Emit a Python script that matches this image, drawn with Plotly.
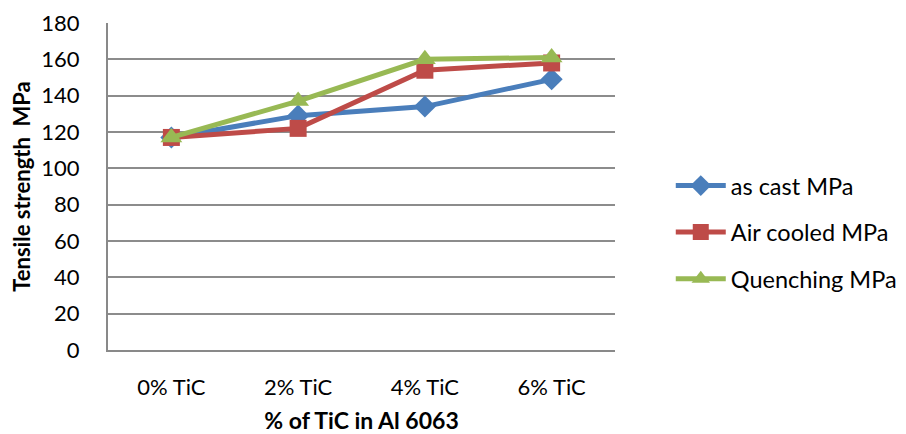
import plotly.graph_objects as go

categories = ["0% TiC", "2% TiC", "4% TiC", "6% TiC"]
as_cast = [117, 129, 134, 149]
air_cooled = [117, 122, 154, 158]
quenching = [117, 137, 160, 161]
y_ticks = [0, 20, 40, 60, 80, 100, 120, 140, 160, 180]

series = [
    ("as cast MPa", as_cast, "#4A7EBB", "diamond", 17),
    ("Air cooled MPa", air_cooled, "#BE4B48", "square", 17),
    ("Quenching MPa", quenching, "#98B954", "triangle-up", 19),
]

fig = go.Figure()
for i, (name, vals, color, sym, size) in enumerate(series):
    fig.add_trace(go.Scatter(
        x=categories, y=vals, name=name, mode="lines+markers",
        legendgroup=f"g{i}",
        line=dict(color=color, width=5),
        marker=dict(symbol=sym, size=size, color=color),
    ))

font_family = "Lato, 'Liberation Sans', sans-serif"
fig.update_layout(
    width=898, height=426,
    margin=dict(l=100, r=291, t=15, b=84, autoexpand=False),
    paper_bgcolor="white", plot_bgcolor="white",
    font=dict(family=font_family, size=22, color="#000000"),
    showlegend=True,
    legend=dict(x=1.11, y=0.36, xanchor="left", yanchor="middle",
                font=dict(size=23.5), tracegroupgap=13,
                itemwidth=50),
    xaxis=dict(
        automargin=False,
        showgrid=False, showline=True, linecolor="#898989", linewidth=2,
        ticks="", ticklabelstandoff=17, tickfont=dict(size=22),
        range=[-0.5, 3.5],
        title=dict(text="<b>% of TiC in Al 6063</b>", font=dict(size=23), standoff=14),
    ),
    yaxis=dict(
        automargin=False,
        range=[0, 180], tickvals=y_ticks, showgrid=True, gridcolor="#8C8C8C",
        gridwidth=1.5, showline=True, linecolor="#898989", linewidth=2,
        ticks="", ticklabelstandoff=22,
        tickfont=dict(size=22), zeroline=False,
        title=dict(text="<b>Tensile strength  MPa</b>", font=dict(size=22), standoff=20),
    ),
)

fig.write_html("out.html")
